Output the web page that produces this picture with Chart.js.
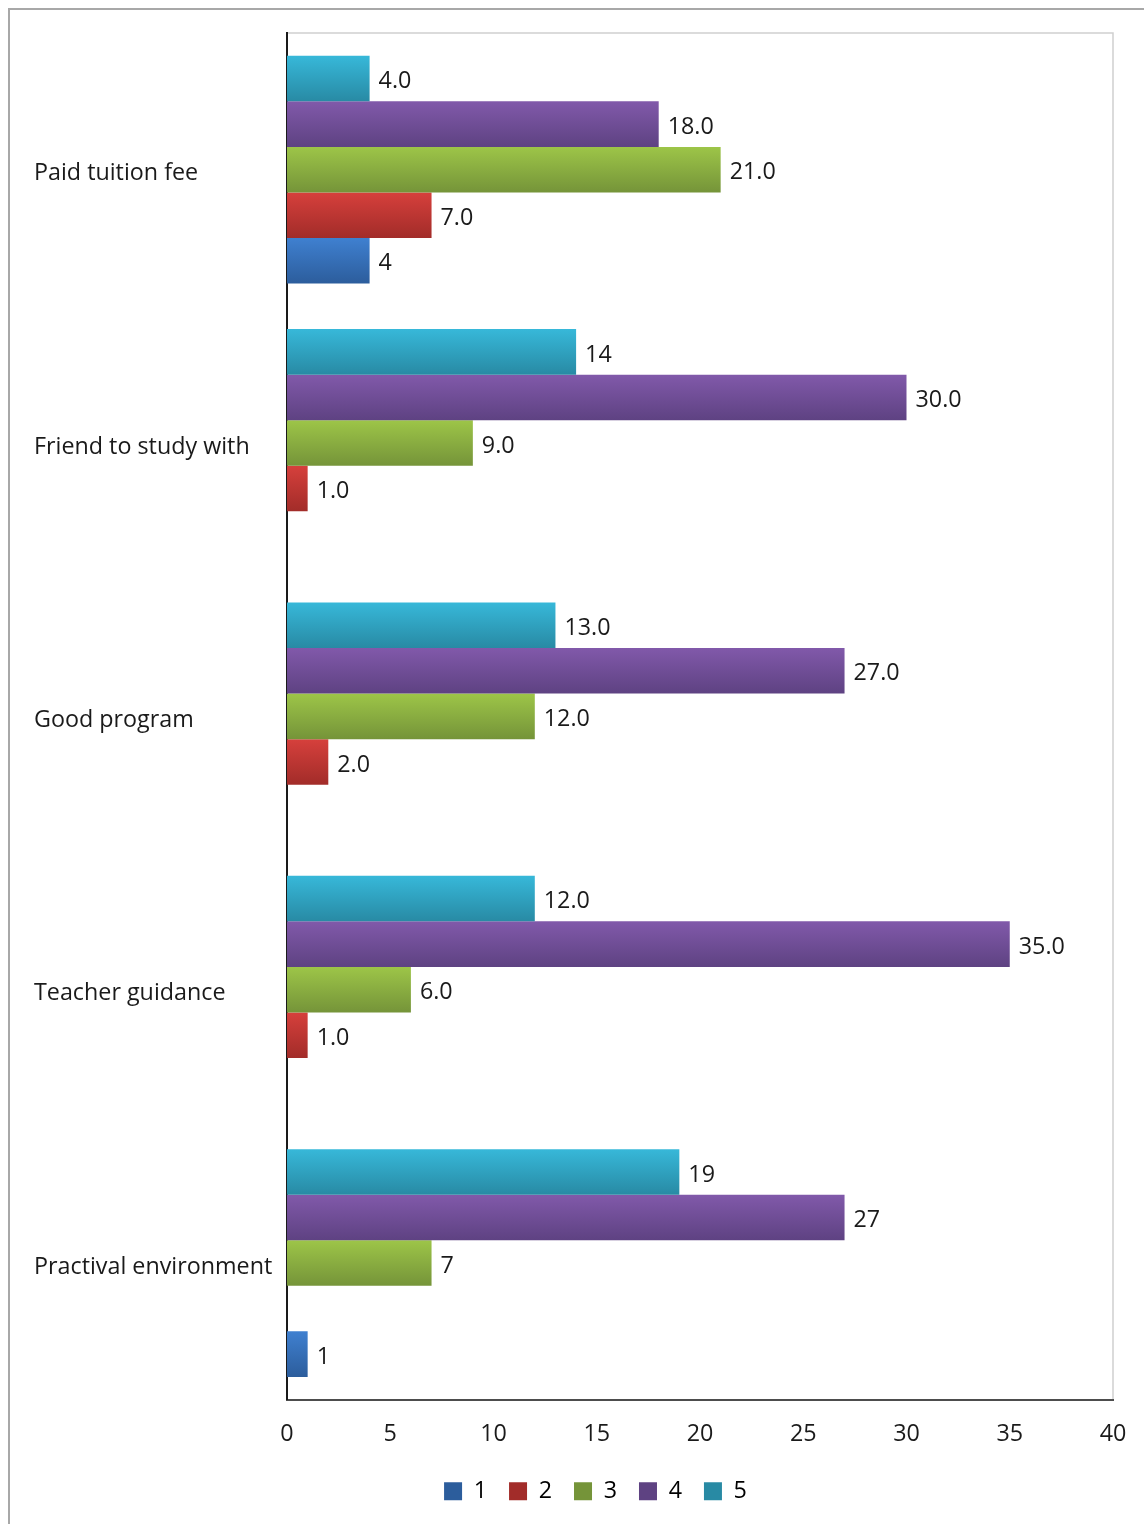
<!DOCTYPE html>
<html lang="en">
<head>
<meta charset="UTF-8">
<title>Reasons</title>
<script src="https://cdn.jsdelivr.net/npm/chart.js"></script>
<style>
  html, body { margin: 0; padding: 0; background: #fff; }
  #wrap { position: relative; width: 1144px; height: 1524px; }
</style>
</head>
<body>
<div id="wrap"><canvas id="myChart"></canvas></div>

<script>
  // categories, top to bottom
  var categories = ['Paid tuition fee', 'Friend to study with', 'Good program', 'Teacher guidance', 'Practival environment'];

  // answer groups 1..5 (null = no answers)
  var series1 = [4, null, null, null, 1];
  var series2 = [7, 1, 2, 1, null];
  var series3 = [21, 9, 12, 6, 7];
  var series4 = [18, 30, 27, 35, 27];
  var series5 = [4, 14, 13, 12, 19];

  // value labels as they are printed next to each bar
  var text1 = ['4', '', '', '', '1'];
  var text2 = ['7.0', '1.0', '2.0', '1.0', ''];
  var text3 = ['21.0', '9.0', '12.0', '6.0', '7'];
  var text4 = ['18.0', '30.0', '27.0', '35.0', '27'];
  var text5 = ['4.0', '14', '13.0', '12.0', '19'];

  var xTicks = [0, 5, 10, 15, 20, 25, 30, 35, 40];

  var FONT = '"Open Sans", "Noto Sans", sans-serif';
  var FSIZE = 23.3;
  var catPct = 5 / 6;

  // [top colour, bottom colour] for each group
  var shades = {
    '1': ['#3f80d0', '#2c5d9c'],
    '2': ['#d6403c', '#a22c29'],
    '3': ['#9dc548', '#759439'],
    '4': ['#8159aa', '#5e4282'],
    '5': ['#37b8d9', '#288aa4']
  };

  // vertical gradient for a bar, worked out from the category scale
  function barFill(ctx) {
    var chart = ctx.chart;
    var ds = chart.data.datasets[ctx.datasetIndex];
    var pair = shades[ds.label];
    var yScale = chart.scales.y;
    if (!yScale || ctx.type !== 'data' || !yScale.height) return pair[0];
    var nDs = chart.data.datasets.length;
    var catH = yScale.height / categories.length;
    var barH = catH * catPct / nDs;
    var center = yScale.getPixelForValue(ctx.dataIndex);
    var top = center - catH * catPct / 2 + ctx.datasetIndex * barH;
    var g = chart.ctx.createLinearGradient(0, top, 0, top + barH);
    g.addColorStop(0, pair[0]);
    g.addColorStop(1, pair[1]);
    return g;
  }

  // outer frame and light plot border; legend nudged right
  var framePlugin = {
    id: 'frame',
    afterLayout: function (chart) {
      if (chart.legend) {
        chart.legend.left += 22;
        chart.legend.right += 22;
      }
    },
    beforeDraw: function (chart) {
      var c = chart.ctx, a = chart.chartArea;
      c.save();
      c.strokeStyle = '#a8a8a8';
      c.lineWidth = 2;
      c.beginPath();
      c.moveTo(9, chart.height);
      c.lineTo(9, 9);
      c.lineTo(chart.width, 9);
      c.stroke();
      c.strokeStyle = '#d0d0d0';
      c.lineWidth = 1.5;
      c.beginPath();
      c.moveTo(a.left, a.top);
      c.lineTo(a.right, a.top);
      c.lineTo(a.right, a.bottom);
      c.stroke();
      c.restore();
    }
  };

  // value labels at the end of each bar
  var valuePlugin = {
    id: 'values',
    afterDatasetsDraw: function (chart) {
      var c = chart.ctx;
      c.save();
      c.font = FSIZE + 'px ' + FONT;
      c.fillStyle = '#1a1a1a';
      c.textAlign = 'left';
      c.textBaseline = 'middle';
      chart.data.datasets.forEach(function (ds, i) {
        var meta = chart.getDatasetMeta(i);
        meta.data.forEach(function (el, j) {
          if (ds.data[j] === null || !ds.texts[j]) return;
          c.fillText(ds.texts[j], el.x + 9, el.y + 3);
        });
      });
      c.restore();
    }
  };

  function makeSet(label, data, texts) {
    return {
      label: label,
      data: data,
      texts: texts,
      backgroundColor: barFill,
      borderWidth: 0,
      categoryPercentage: catPct,
      barPercentage: 1.0
    };
  }

  // top bar in each group is 5, bottom is 1
  var data = {
    labels: categories,
    datasets: [
      makeSet('5', series5, text5),
      makeSet('4', series4, text4),
      makeSet('3', series3, text3),
      makeSet('2', series2, text2),
      makeSet('1', series1, text1)
    ]
  };

  var ctx = document.getElementById('myChart').getContext('2d');

  var myChart = new Chart(ctx, {
    type: 'bar',
    data: data,
    plugins: [framePlugin, valuePlugin],
    options: {
      indexAxis: 'y',
      responsive: true,
      maintainAspectRatio: false,
      animation: false,
      layout: { padding: { left: 34, top: 33, right: 31, bottom: 11 } },
      scales: {
        x: {
          min: 0,
          max: 40,
          afterBuildTicks: function (scale) {
            scale.ticks = xTicks.map(function (v) { return { value: v }; });
          },
          afterFit: function (scale) {
            scale.height = 58;
            scale.paddingLeft = 0;
            scale.paddingRight = 0;
          },
          grid: { display: false, drawTicks: false },
          border: { display: true, color: '#4d4d4d', width: 2 },
          ticks: { color: '#1a1a1a', padding: 21, font: { family: FONT, size: FSIZE } }
        },
        y: {
          afterFit: function (scale) { scale.width = 253; },
          grid: { display: false, drawTicks: false },
          border: { display: true, color: '#1a1a1a', width: 2 },
          ticks: { color: '#1a1a1a', crossAlign: 'far', labelOffset: 4, font: { family: FONT, size: FSIZE } }
        }
      },
      plugins: {
        tooltip: { enabled: false },
        legend: {
          position: 'bottom',
          reverse: true,
          labels: {
            boxWidth: 18,
            boxHeight: 18,
            padding: 22,
            color: '#1a1a1a',
            font: { family: FONT, size: FSIZE },
            generateLabels: function (chart) {
              return chart.data.datasets.map(function (ds, i) {
                var pair = shades[ds.label];
                return {
                  text: ds.label,
                  fillStyle: pair[1],
                  strokeStyle: pair[1],
                  lineWidth: 0,
                  datasetIndex: i,
                  hidden: false
                };
              });
            }
          }
        }
      }
    }
  });
</script>
</body>
</html>
